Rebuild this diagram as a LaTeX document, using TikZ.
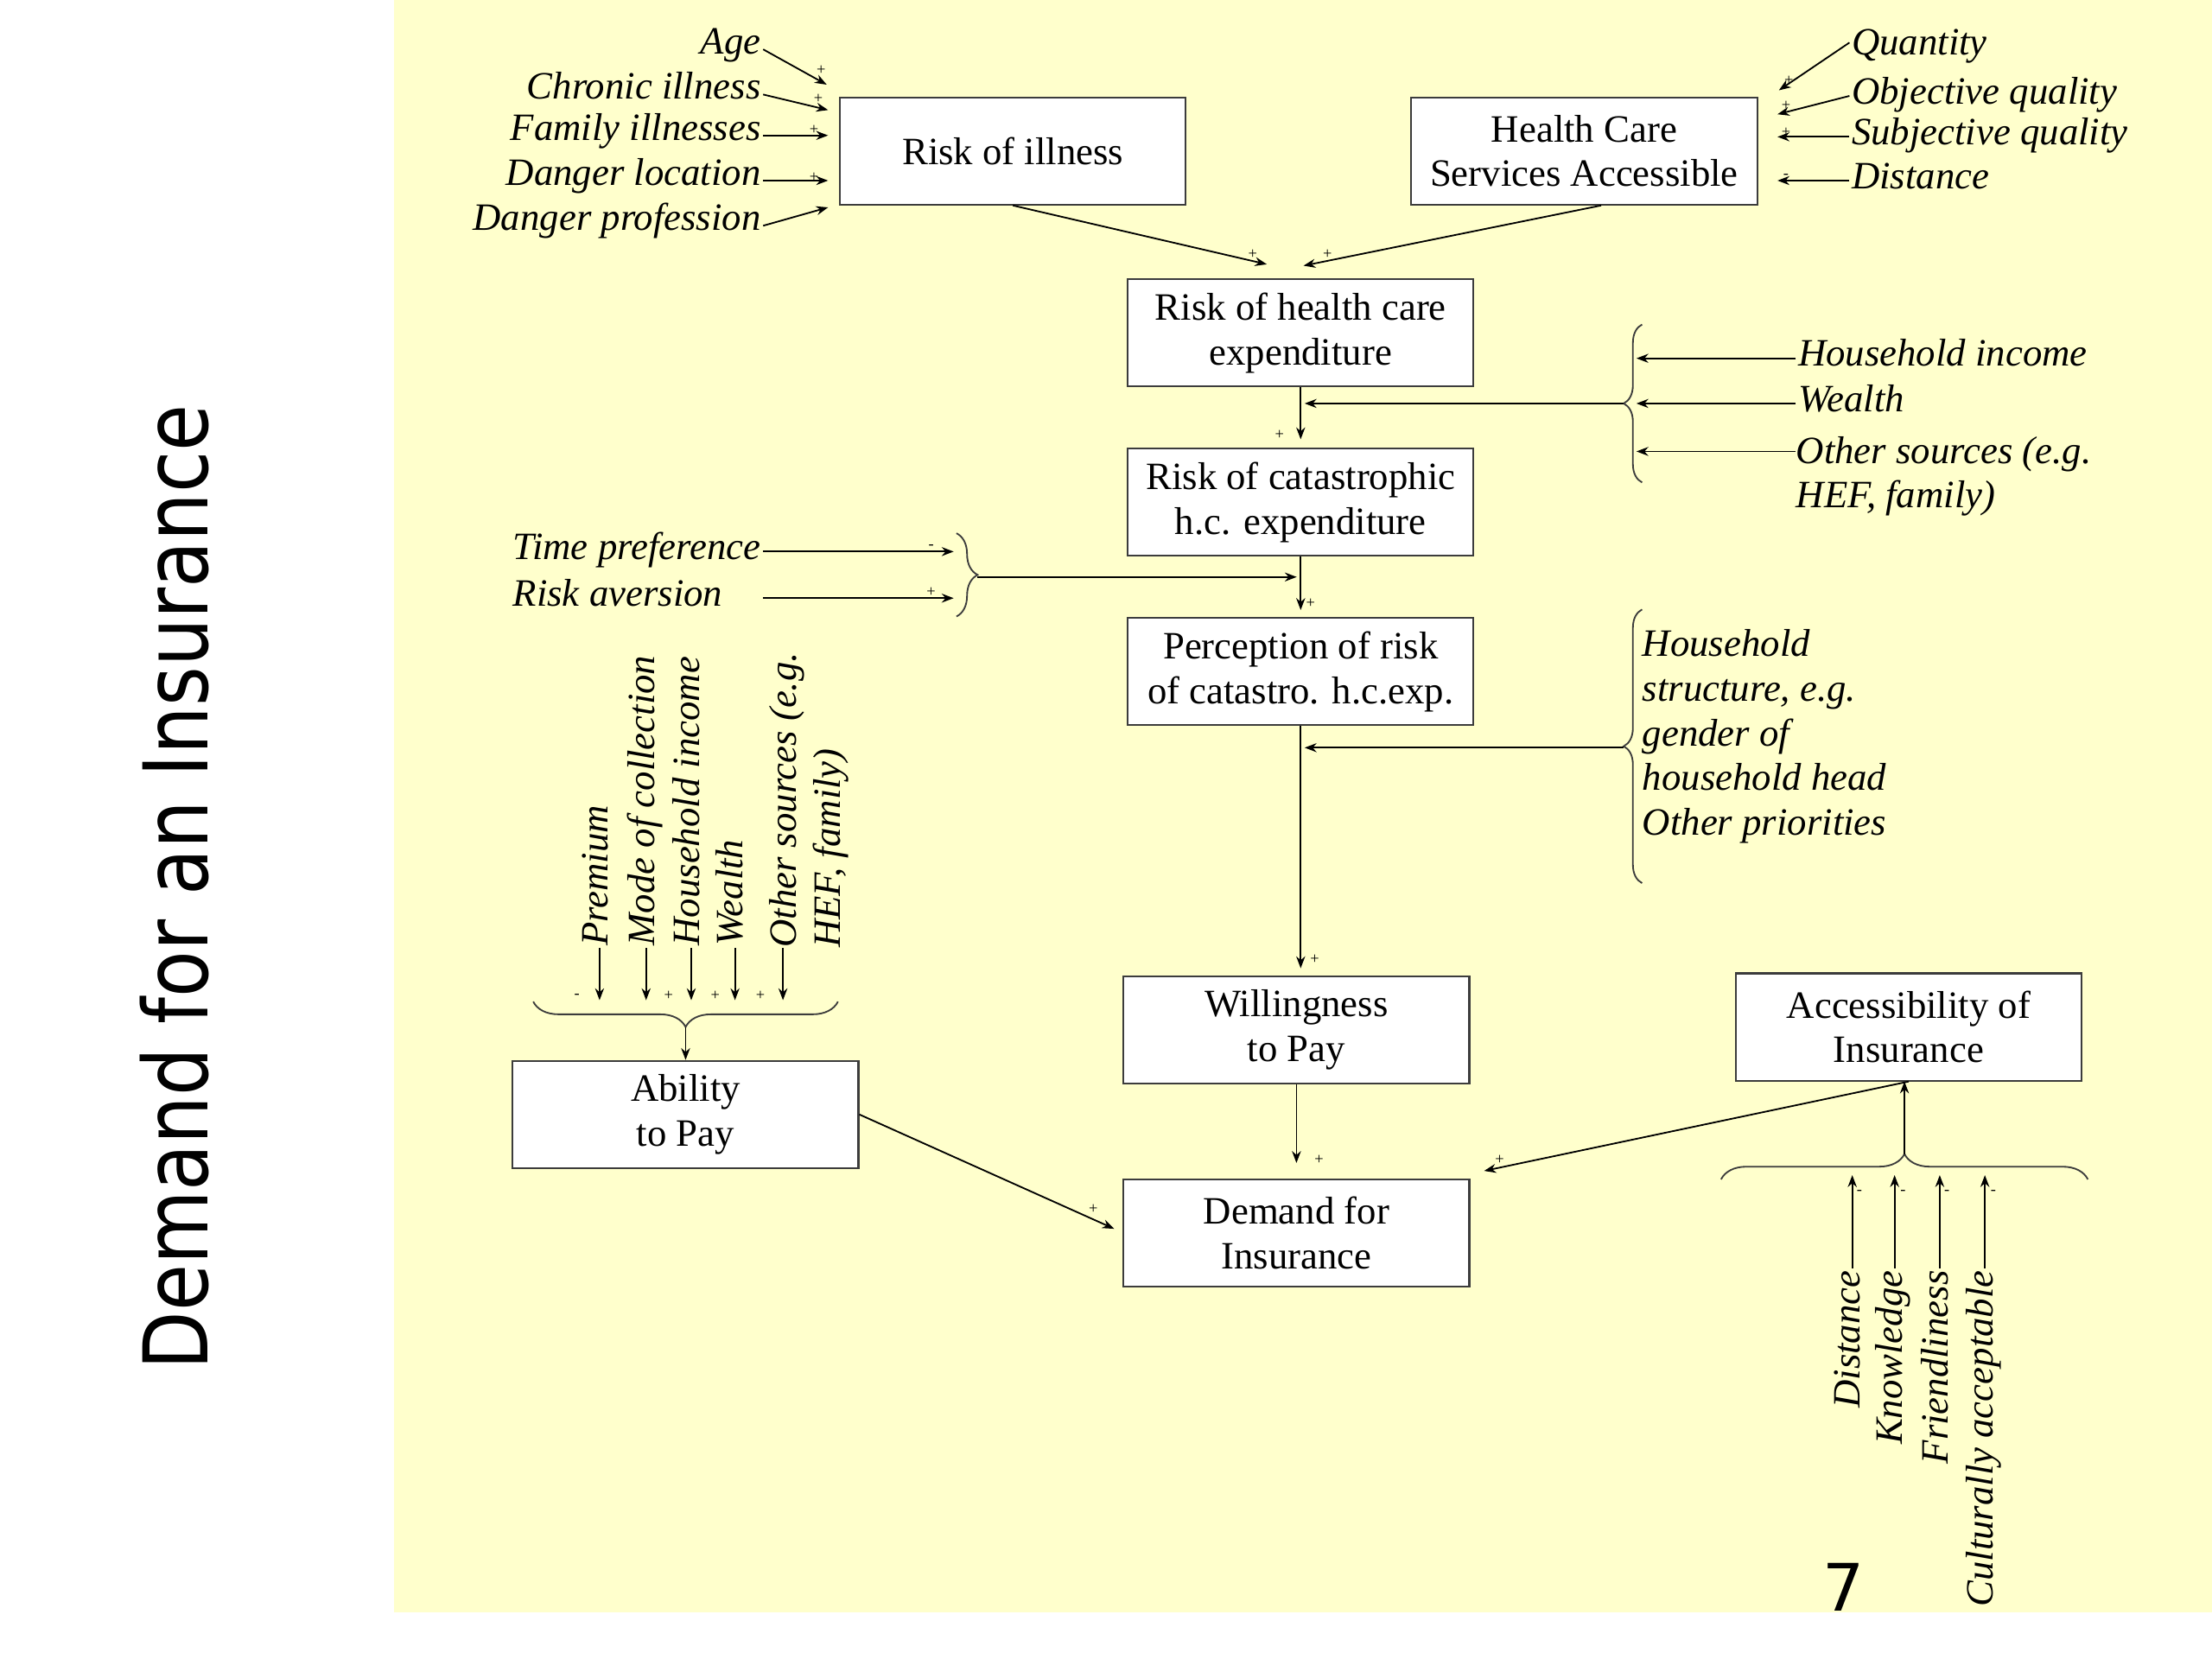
\documentclass[tikz,border=0pt]{standalone}
\usepackage{fontspec}
\setmainfont{Liberation Serif}
\newfontfamily\titlefont{DejaVu Sans}[FakeStretch=0.85]
\newfontfamily\pagefont{DejaVu Sans}
\usetikzlibrary{arrows.meta,decorations.pathreplacing}
\definecolor{slideyellow}{HTML}{FFFFCC}
\definecolor{boxgray}{HTML}{3C3C3C}
\tikzset{
    box/.style={draw=boxgray, line width=0.9pt, fill=white, minimum width=6.125cm, minimum height=1.9cm, align=center, font=\fontsize{19.5}{22.5}\selectfont},
    factor/.style={font=\fontsize{19.5}{22.5}\selectfont\itshape, inner sep=1pt, text height=0.7em, text depth=0.22em},
    rfactor/.style={factor, text height=0.86em, text depth=0.05em},
    factorblock/.style={font=\fontsize{19.5}{22.5}\selectfont\itshape, inner sep=0pt, align=left},
    arr/.style={-{Stealth[length=6pt,width=4.5pt]}, line width=0.8pt},
    sign/.style={font=\fontsize{8}{8}\selectfont, inner sep=0pt},
    curly/.style={decorate, decoration={brace, amplitude=#1}, draw=boxgray, line width=0.8pt},
}

\begin{document}
\begin{tikzpicture}[x=0.025cm, y=-0.025cm, node distance=3cm]
    \useasboundingbox (0,0) rectangle (1568,1176);
    \fill[white] (0,0) rectangle (1568,1176);
    \fill[slideyellow] (279,0) rectangle (1568,1143);

    \node[rotate=90, font=\titlefont\fontsize{45}{45}\selectfont] (title) at (124,629) {Demand for an Insurance};
    \node[font=\pagefont\fontsize{33}{33}\selectfont] (pagenum) at (1307,1125) {7};

    \node[box] (illness) at (718,107) {Risk of illness};
    \node[box] (hcs) at (1123,107) {Health Care\\Services Accessible};
    \node[box] (hcexp) at (922,236) {Risk of health care\\expenditure};
    \node[box] (cata) [below of=hcexp] {Risk of catastrophic\\h.c. expenditure};
    \node[box] (percep) [below of=cata] {Perception of risk\\of catastro. h.c.exp.};
    \node[box] (wtp) at (919,730) {Willingness\\to Pay};
    \node[box] (demand) [node distance=3.6cm, below of=wtp] {Demand for\\Insurance};
    \node[box] (access) at (1353,728) {Accessibility of\\Insurance};
    \node[box] (atp) at (486,790) {Ability\\to Pay};

    \node[factor, anchor=east] (age) at (541,35) {Age};
    \node[factor, anchor=east] (chronic) at (541,67) {Chronic illness};
    \node[factor, anchor=east] (family) at (541,96) {Family illnesses};
    \node[factor, anchor=east] (dloc) at (541,128) {Danger location};
    \node[factor, anchor=east] (dprof) at (541,160) {Danger profession};
    \coordinate (ill1) at (586,60);
    \coordinate (ill2) at (587,78);
    \coordinate (ill3) at (587,96);
    \coordinate (ill4) at (587,128);
    \coordinate (ill5) at (587,147);
    \draw[arr] (age.east) -- (ill1);
    \draw[arr] (chronic.east) -- (ill2);
    \draw[arr] (family.east) -- (ill3);
    \draw[arr] (dloc.east) -- (ill4);
    \draw[arr] (dprof.east) -- (ill5);

    \node[rfactor, anchor=west] (quantity) at (1311,33) {Quantity};
    \node[rfactor, anchor=west] (objq) at (1311,68) {Objective quality};
    \node[rfactor, anchor=west] (subjq) at (1311,97) {Subjective quality};
    \node[rfactor, anchor=west] (hdist) at (1311,128) {Distance};
    \coordinate (hcs1) at (1261,64);
    \coordinate (hcs2) at (1260,81);
    \coordinate (hcs3) at (1260,97);
    \coordinate (hcs4) at (1260,128);
    \draw[arr] ([yshift=0.07cm]quantity.west) -- (hcs1);
    \draw[arr] (objq.west) -- (hcs2);
    \draw[arr] (subjq.west) -- (hcs3);
    \draw[arr] (hdist.west) -- (hcs4);

    \draw[arr] (illness.south) -- ([xshift=-0.6cm, yshift=0.25cm]hcexp.north);
    \draw[arr] ([xshift=0.3cm]hcs.south) -- ([xshift=0.05cm, yshift=0.225cm]hcexp.north);
    \draw[arr] (hcexp.south) -- ([yshift=0.15cm]cata.north);
    \draw[arr] (cata.south) -- ([yshift=0.125cm]percep.north);
    \draw[arr, shorten >=0.125cm] (percep.south) -- (percep.south |- wtp.north);
    \draw[arr] (wtp.south) -- ([yshift=0.275cm]demand.north);

    \draw[curly=0.325cm] (1164,342) -- (1164,230);
    \coordinate (br1) at (1151,286);
    \coordinate (br1in) at (1160,286);
    \node[rfactor, anchor=west] (hhinc) at (1273,254) {Household income};
    \node[rfactor, anchor=west] (wealth) at (1273,286) {Wealth};
    \node[factorblock, anchor=north west] (othsrc) at (1273,309) {Other sources (e.g.\\HEF, family)};
    \draw[arr] (hhinc.west) -- (hhinc.west -| br1in);
    \draw[arr] (wealth.west) -- (wealth.west -| br1in);
    \draw[arr] ([yshift=-0.275cm]othsrc.north west) -- ([yshift=-0.275cm]othsrc.north west -| br1in);
    \draw[arr, shorten >=2pt] (br1) -- (br1 -| hcexp.south);

    \node[rfactor, anchor=west] (timepref) at (362,391) {Time preference};
    \node[rfactor, anchor=west] (riskav) at (362,424) {Risk aversion};
    \draw[curly=0.375cm] (678,378) -- (678,437);
    \coordinate (br2) at (693,409);
    \coordinate (br2in) at (676,409);
    \draw[arr] (timepref.east) -- (timepref.east -| br2in);
    \draw[arr] (timepref.east |- riskav.east) -- (riskav.east -| br2in);
    \draw[arr, shorten >=2pt] (br2) -- (br2 -| cata.south);

    \draw[curly=0.325cm] (1164,626) -- (1164,432);
    \coordinate (br3) at (1151,530);
    \node[factorblock, anchor=north west] (hhstruct) at (1164,446) {Household\\structure, e.g.\\gender of\\household head\\Other priorities};
    \draw[arr, shorten >=2pt] (br3) -- (br3 -| percep.south);

    \coordinate (dmin) at (1052,830);
    \draw[arr] (access.south) -- (dmin);
    \draw[curly=0.45cm] (1220,836) -- (1480,836);
    \coordinate (br4) at (1350,818);
    \coordinate (br4in) at (1350,833);
    \draw[arr] (br4) -- (br4 |- access.south);
    \node[rfactor, rotate=90, anchor=east] (adist) at (1313,899) {Distance};
    \node[rfactor, rotate=90, anchor=east] (aknow) at (1343,899) {Knowledge};
    \node[rfactor, rotate=90, anchor=east] (afriend) at (1375,899) {Friendliness};
    \node[rfactor, rotate=90, anchor=east] (acult) at (1407,899) {Culturally acceptable};
    \draw[arr] (adist.east) -- (adist.east |- br4in);
    \draw[arr] (aknow.east) -- (aknow.east |- br4in);
    \draw[arr] (afriend.east) -- (afriend.east |- br4in);
    \draw[arr] (acult.east) -- (acult.east |- br4in);

    \draw[curly=0.45cm] (594,710) -- (378,710);
    \coordinate (br5) at (486,728);
    \coordinate (br5in) at (486,709);
    \draw[arr] (br5) -- (atp.north);
    \node[rfactor, rotate=90, anchor=west] (premium) at (425,672) {Premium};
    \node[rfactor, rotate=90, anchor=west] (modecol) at (458,672) {Mode of collection};
    \node[rfactor, rotate=90, anchor=west] (hhinc2) at (490,672) {Household income};
    \node[rfactor, rotate=90, anchor=west] (wealth2) at (521,672) {Wealth};
    \node[factorblock, rotate=90, anchor=north west] (othsrc2) at (545,672) {Other sources (e.g.\\HEF, family)};
    \draw[arr] (premium.west) -- (premium.west |- br5in);
    \draw[arr] (modecol.west) -- (modecol.west |- br5in);
    \draw[arr] (hhinc2.west) -- (hhinc2.west |- br5in);
    \draw[arr] (wealth2.west) -- (wealth2.west |- br5in);
    \draw[arr] ([xshift=0.25cm]othsrc2.north west) -- ([xshift=0.25cm]othsrc2.north west |- br5in);
    \draw[arr] (atp.east) -- ([xshift=-0.15cm, yshift=0.075cm]demand.west);

    \node[sign] (sage) at (582,50) {+};
    \node[sign] (schron) at (580,70) {+};
    \node[sign] (sfam) at (577,92) {+};
    \node[sign] (sdloc) at (577,126) {+};
    \node[sign] (sill) at (888,180) {+};
    \node[sign] (shcs) at (941,180) {+};
    \node[sign] (squant) at (1268,57) {+};
    \node[sign] (sobj) at (1266,75) {+};
    \node[sign] (ssubj) at (1266,94) {+};
    \node[sign] (shdist) at (1266,125) {-};
    \node[sign] (scata) at (907,308) {+};
    \node[sign] (stime) at (660,388) {-};
    \node[sign] (srisk) at (660,420) {+};
    \node[sign] (sperc) at (929,428) {+};
    \node[sign] (swtp) at (932,680) {+};
    \node[sign] (sdem) at (935,822) {+};
    \node[sign] (sacc) at (1063,822) {+};
    \node[sign] (satp) at (775,857) {+};
    \node[sign] (sprem) at (409,706) {-};
    \node[sign] (smode) at (474,706) {+};
    \node[sign] (shinc) at (507,706) {+};
    \node[sign] (swea) at (539,706) {+};
    \node[sign] (sadist) at (1318,845) {-};
    \node[sign] (saknow) at (1349,845) {-};
    \node[sign] (safri) at (1380,845) {-};
    \node[sign] (sacult) at (1413,845) {-};
\end{tikzpicture}
\end{document}
